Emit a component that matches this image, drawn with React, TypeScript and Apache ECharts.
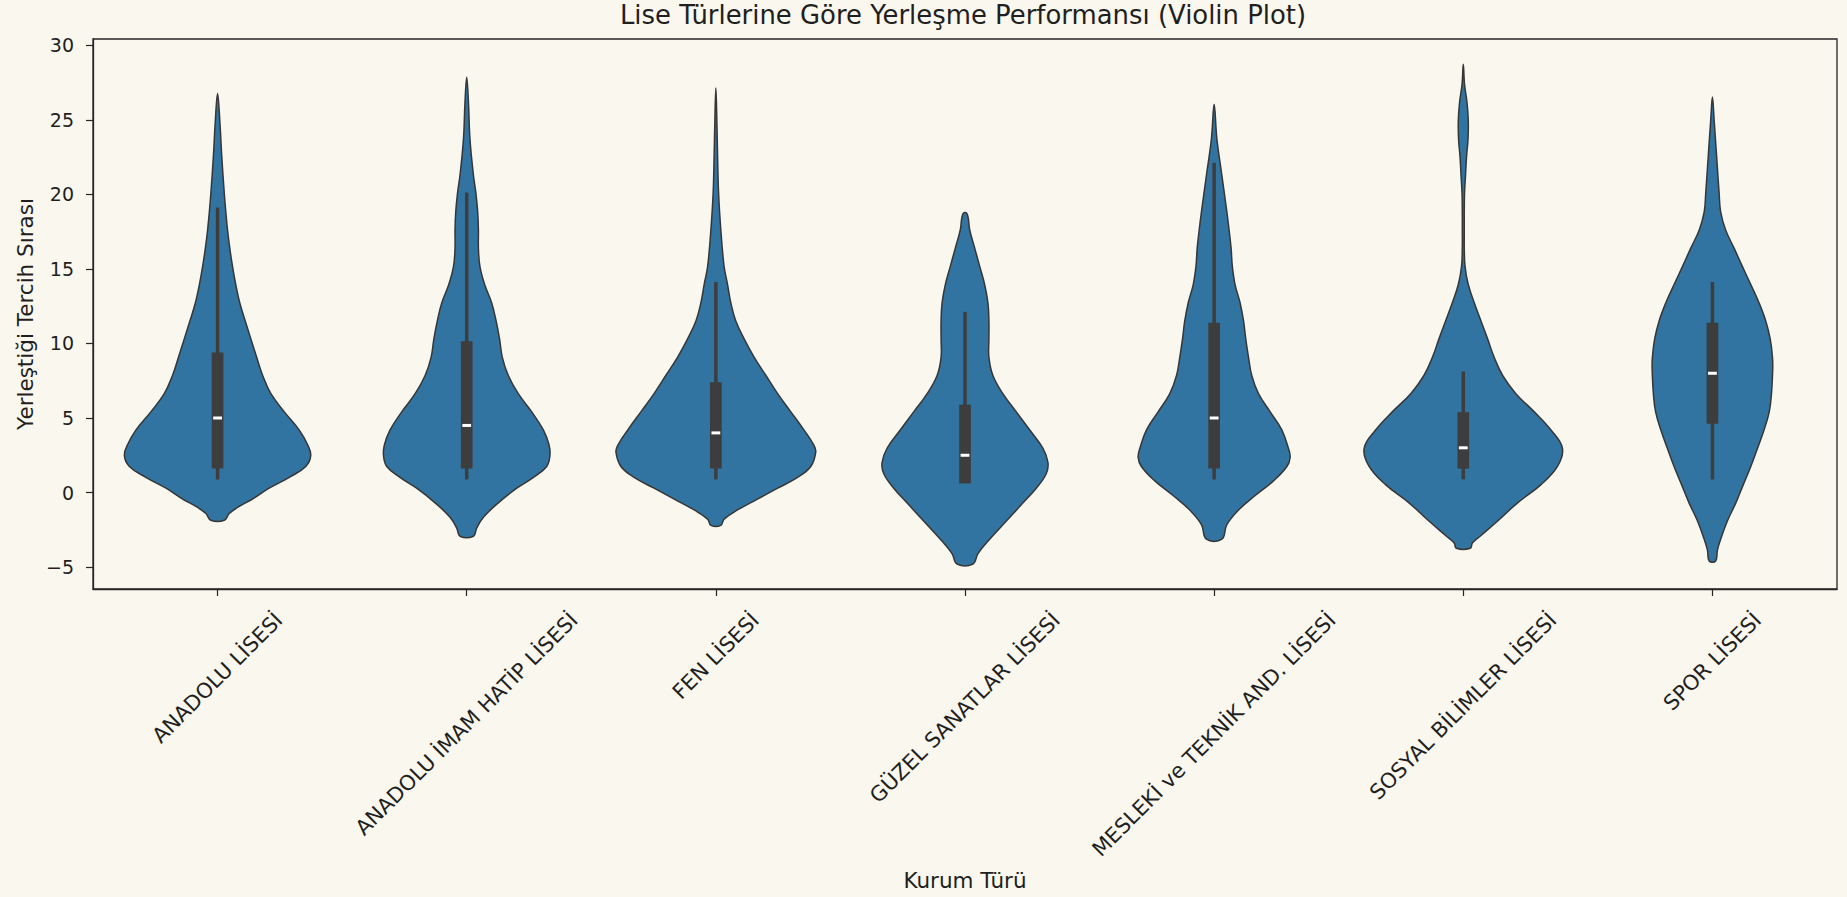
import React, { useEffect, useRef } from "react";
import * as echarts from "echarts";

// ---------- data ----------
const titleText = "Lise Türlerine Göre Yerleşme Performansı (Violin Plot)";
const xAxisTitle = "Kurum Türü";
const yAxisTitle = "Yerleştiği Tercih Sırası";

const categories = [
  "ANADOLU LİSESİ",
  "ANADOLU İMAM HATİP LİSESİ",
  "FEN LİSESİ",
  "GÜZEL SANATLAR LİSESİ",
  "MESLEKİ ve TEKNİK AND. LİSESİ",
  "SOSYAL BİLİMLER LİSESİ",
  "SPOR LİSESİ",
];

const yTicks = [-5, 0, 5, 10, 15, 20, 25, 30];
const yMin = -6.47;
const yMax = 30.42;

// violin outlines: [value, half-width as % of a category band], from top to bottom
const anadoluProfile = [
  [26.77, 0], [24.94, 0.9], [22.5, 1.7], [20.06, 2.7], [18.83, 3.3], [17.61, 4.0],
  [16.39, 4.9], [15.17, 6.0], [13.95, 7.3], [12.73, 8.9], [11.51, 11.1], [10.29, 13.4],
  [9.07, 15.7], [7.85, 18.1], [6.63, 21.4], [5.41, 26.8], [4.19, 32.8], [3.22, 36.1],
  [2.49, 37.4], [1.75, 35.4], [1.02, 28.8], [0.29, 20.7], [-0.44, 14.0], [-0.93, 8.7],
  [-1.41, 4.7], [-1.86, 2.7],
];
const imamHatipProfile = [
  [27.86, 0], [26.16, 0.7], [23.72, 1.3], [21.28, 2.7], [20.06, 3.7], [18.83, 4.4],
  [17.61, 4.7], [16.39, 4.7], [15.17, 5.3], [13.95, 7.2], [12.73, 10.0], [11.51, 11.8],
  [10.29, 13.2], [9.07, 14.3], [7.85, 16.7], [6.63, 20.7], [5.41, 26.1], [4.19, 30.8],
  [3.22, 33.0], [2.49, 33.4], [1.75, 32.1], [1.02, 26.8], [0.29, 20.1], [-0.69, 12.7],
  [-1.66, 6.7], [-2.39, 4.0], [-2.93, 2.7],
];
const fenProfile = [
  [27.13, 0], [24.94, 0.4], [22.5, 0.7], [20.06, 1.1], [17.61, 2.0], [15.17, 3.3],
  [13.95, 4.7], [12.73, 6.0], [11.51, 8.0], [10.29, 11.4], [9.07, 15.4], [7.85, 20.1],
  [6.63, 24.8], [5.41, 30.1], [4.19, 35.4], [3.22, 39.2], [2.73, 40.1], [1.75, 38.1],
  [1.02, 32.8], [0.29, 24.8], [-0.44, 16.7], [-1.17, 8.7], [-1.78, 3.3], [-2.2, 2.0],
];
const guzelSanatlarProfile = [
  [18.75, 0.6], [18.4, 1.3], [17.61, 1.9], [16.39, 3.9], [15.17, 5.9], [13.95, 7.9],
  [12.73, 9.2], [11.51, 9.6], [10.29, 9.6], [9.07, 9.6], [7.85, 11.2], [6.63, 15.2],
  [5.41, 20.6], [4.19, 26.0], [2.97, 31.3], [2.0, 33.3], [1.26, 32.6], [0.29, 28.6],
  [-0.69, 23.3], [-1.91, 16.6], [-3.13, 9.9], [-4.1, 5.2], [-4.79, 3.2],
];
const meslekiProfile = [
  [26.04, 0], [23.72, 1.1], [21.28, 3.1], [18.83, 5.1], [17.61, 6.0], [16.39, 6.8],
  [15.17, 7.3], [13.95, 8.4], [12.73, 10.4], [11.51, 11.8], [10.29, 12.7], [9.07, 13.8],
  [7.85, 15.1], [6.63, 17.8], [5.41, 22.5], [4.19, 27.2], [2.97, 29.8], [2.36, 30.5],
  [1.75, 29.2], [0.78, 23.8], [-0.2, 16.5], [-1.17, 9.8], [-2.15, 5.1], [-3.13, 3.1],
];
const sosyalProfile = [
  [28.72, 0], [27.38, 0.5], [26.16, 1.5], [24.94, 2.0], [23.72, 1.9], [22.5, 1.3],
  [21.28, 0.9], [20.06, 0.5], [18.83, 0.4], [17.61, 0.4], [16.39, 0.4], [15.17, 0.7],
  [13.95, 2.0], [12.73, 4.4], [11.51, 7.1], [10.29, 9.8], [9.07, 12.4], [7.85, 15.8],
  [6.63, 21.1], [5.41, 28.5], [4.19, 35.2], [2.97, 39.8], [1.75, 37.8], [0.53, 31.2],
  [-0.69, 21.8], [-1.91, 13.8], [-2.88, 7.1], [-3.37, 3.7], [-3.74, 2.8],
];
const sporProfile = [
  [26.53, 0], [24.94, 0.7], [22.5, 1.7], [20.06, 2.7], [18.83, 3.3], [17.61, 5.3],
  [16.39, 8.7], [15.17, 12.0], [13.95, 15.4], [12.73, 18.7], [11.51, 21.4], [10.29, 23.2],
  [9.07, 24.1], [8.34, 24.2], [6.63, 23.7], [5.41, 22.8], [4.19, 20.7], [2.97, 18.1],
  [1.75, 15.4], [0.53, 12.4], [-0.69, 9.4], [-1.91, 6.0], [-3.13, 3.3], [-3.86, 2.0],
  [-4.59, 1.3],
];

// box statistics per category
const q1Values = [2, 2, 2, 1, 2, 2, 5];
const medianValues = [5, 4.5, 4, 2.5, 5, 3, 8];
const q3Values = [9, 9.75, 7, 5.5, 11, 5, 11];
const whiskerLow = [1, 1, 1, 1, 1, 1, 1];
const whiskerHigh = [19, 20, 14, 12, 22, 8, 14];

const profiles = [
  anadoluProfile,
  imamHatipProfile,
  fenProfile,
  guzelSanatlarProfile,
  meslekiProfile,
  sosyalProfile,
  sporProfile,
];

// ---------- styles ----------
const BG = "#faf7ee";
const INK = "#1f1f1f";
const AXIS = "#262626";
const FONT = '"DejaVu Sans", "Noto Sans", sans-serif';
const VIOLIN_FILL = "#3274a1";
const VIOLIN_EDGE = "#363636";
const BOX_COLOR = "#3d3d3d";
const X_LABEL_FS = 21;
const Y_LABEL_FS = 19;
const NAME_FS = 21.5;
const TITLE_FS = 25.9;
const X_LABEL_GAP = 19;

function fmtTick(v: number) {
  return v < 0 ? "\u2212" + Math.abs(v) : String(v);
}

export default function App() {
  const ref = useRef<HTMLDivElement>(null);

  useEffect(() => {
    if (!ref.current) return;
    const chart = echarts.init(ref.current, null, { renderer: "svg" });

    // measure category labels so that each rotated label box is centred under its tick
    const canvas = document.createElement("canvas");
    const ctx = canvas.getContext("2d")!;
    ctx.font = `${X_LABEL_FS}px "DejaVu Sans"`;
    const labelWidths = categories.map((c) => ctx.measureText(c).width);

    const renderViolin = (params: any, api: any) => {
      const i = api.value(0) as number;
      const profile = profiles[i];
      const band = api.size([1, 0])[0];
      const right: number[][] = [];
      const left: number[][] = [];
      profile.forEach(([v, w], k) => {
        const pt = api.coord([i, v]);
        const hw = (band * w) / 100;
        right.push([pt[0] + hw, pt[1]]);
        if (!(k === 0 && w === 0)) left.push([pt[0] - hw, pt[1]]);
      });
      const points = right.concat(left.reverse());
      const cx = api.coord([i, 0])[0];
      const y = (v: number) => api.coord([i, v])[1];
      const axisY = y(yMin);
      const L = labelWidths[i];
      const h = X_LABEL_FS * 1.15;
      const V = 0.35355 * (L + h);
      return {
        type: "group",
        children: [
          {
            type: "polygon",
            shape: { points, smooth: 0.4 },
            style: { fill: VIOLIN_FILL, stroke: VIOLIN_EDGE, lineWidth: 1.5 },
          },
          {
            type: "line",
            shape: { x1: cx, y1: y(whiskerLow[i]), x2: cx, y2: y(whiskerHigh[i]) },
            style: { stroke: BOX_COLOR, lineWidth: 3.5, lineCap: "square" },
          },
          {
            type: "line",
            shape: { x1: cx, y1: y(q1Values[i]), x2: cx, y2: y(q3Values[i]) },
            style: { stroke: BOX_COLOR, lineWidth: 11.7, lineCap: "square" },
          },
          {
            type: "line",
            shape: { x1: cx - 4.4, y1: y(medianValues[i]), x2: cx + 4.4, y2: y(medianValues[i]) },
            style: { stroke: "#ffffff", lineWidth: 3 },
          },
          {
            type: "text",
            x: cx,
            y: axisY + X_LABEL_GAP + V,
            rotation: Math.PI / 4,
            style: {
              text: categories[i],
              align: "center",
              verticalAlign: "middle",
              fontFamily: FONT,
              fontSize: X_LABEL_FS,
              fill: INK,
            },
          },
        ],
      };
    };

    chart.setOption({
      animation: false,
      backgroundColor: BG,
      textStyle: { fontFamily: FONT, color: INK },
      title: {
        text: titleText,
        left: 963,
        top: 2,
        padding: 0,
        textAlign: "center",
        textStyle: { fontFamily: FONT, fontSize: TITLE_FS, fontWeight: "normal", color: INK },
      },
      grid: {
        left: 93,
        right: 10,
        top: 39,
        bottom: 308,
        show: true,
        backgroundColor: BG,
        borderColor: AXIS,
        borderWidth: 1.3,
        containLabel: false,
        outerBoundsMode: "none",
      },
      xAxis: {
        type: "category",
        data: categories,
        boundaryGap: true,
        name: xAxisTitle,
        nameLocation: "middle",
        nameGap: 280,
        nameMoveOverlap: false,
        nameTextStyle: { fontFamily: FONT, fontSize: NAME_FS, color: INK },
        axisLine: { show: true, onZero: false, lineStyle: { color: AXIS, width: 1.3 } },
        axisTick: { show: true, alignWithLabel: true, length: 7, lineStyle: { color: AXIS, width: 1.2 } },
        axisLabel: { show: false, interval: 0 },
        splitLine: { show: false },
      },
      yAxis: {
        type: "value",
        min: yMin,
        max: yMax,
        name: yAxisTitle,
        nameLocation: "middle",
        nameGap: 57,
        nameMoveOverlap: false,
        nameTextStyle: { fontFamily: FONT, fontSize: NAME_FS, color: INK },
        axisLine: { show: true, lineStyle: { color: AXIS, width: 1.3 } },
        axisTick: { show: true, length: 7, customValues: yTicks, lineStyle: { color: AXIS, width: 1.2 } },
        axisLabel: {
          customValues: yTicks,
          formatter: (v: number) => fmtTick(v),
          margin: 19,
          fontFamily: FONT,
          fontSize: Y_LABEL_FS,
          color: INK,
        },
        splitLine: { show: false },
      },
      series: [
        {
          type: "custom",
          renderItem: renderViolin,
          data: categories.map((_, i) => [i, medianValues[i]]),
          encode: { x: 0, y: 1 },
          silent: true,
          clip: false,
        },
      ],
    });

    return () => chart.dispose();
  }, []);

  return (
    <div
      ref={ref}
      style={{ position: "fixed", left: 0, top: 0, width: 1847, height: 897, background: BG }}
    />
  );
}
